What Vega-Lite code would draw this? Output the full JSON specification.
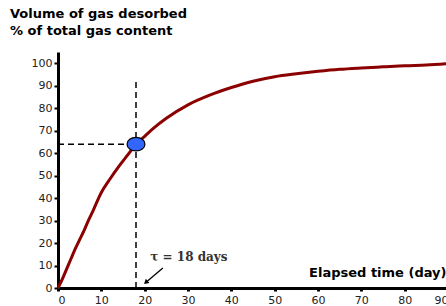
{
  "$schema": "https://vega.github.io/schema/vega-lite/v6.json",
  "autosize": "none",
  "width": 390,
  "height": 236,
  "padding": {"left": 58, "top": 52, "right": 0, "bottom": 18},
  "background": "white",
  "config": {
    "view": {"stroke": null},
    "font": "DejaVu Sans",
    "axisY": {"values": [0, 10, 20, 30, 40, 50, 60, 70, 80, 90, 100], "labelOverlap": false, "tickCount": 11}
  },
  "title": {
    "text": ["Volume of gas desorbed", "% of total gas content"],
    "anchor": "start",
    "frame": "group",
    "dx": -48,
    "offset": 14,
    "fontSize": 13,
    "fontWeight": "bold",
    "lineHeight": 17,
    "color": "black",
    "font": "DejaVu Sans"
  },
  "datasets": {
    "curve": [
      {"t": 0, "v": 0}, {"t": 1, "v": 4}, {"t": 2, "v": 8.5}, {"t": 3, "v": 13}, {"t": 4, "v": 17.5},
      {"t": 5, "v": 21.5}, {"t": 6, "v": 25.5}, {"t": 7, "v": 30}, {"t": 8, "v": 34},
      {"t": 10, "v": 42.5}, {"t": 12, "v": 48.5}, {"t": 14, "v": 54}, {"t": 16, "v": 59},
      {"t": 18, "v": 64}, {"t": 20, "v": 67.5}, {"t": 22, "v": 71}, {"t": 25, "v": 75.5},
      {"t": 30, "v": 81.5}, {"t": 35, "v": 85.8}, {"t": 40, "v": 89.2}, {"t": 45, "v": 92},
      {"t": 50, "v": 94}, {"t": 55, "v": 95.3}, {"t": 60, "v": 96.4}, {"t": 65, "v": 97.3},
      {"t": 70, "v": 97.9}, {"t": 75, "v": 98.4}, {"t": 80, "v": 98.9}, {"t": 85, "v": 99.2},
      {"t": 90, "v": 99.8}
    ],
    "guides": [
      {"x": 0, "x2": 18, "y": 64, "y2": 64},
      {"x": 18, "x2": 18, "y": 0, "y2": 92}
    ],
    "marker": [{"t": 18, "v": 64}],
    "arrow": [{"x": 24.2, "y": 8.9, "x2": 20.6, "y2": 3}],
    "arrowhead": [{"x": 20.4, "y": 2.7}],
    "label": [{"x": 21.3, "y": 13.8, "text": "τ = 18 days"}]
  },
  "encoding": {
    "y": {"type": "quantitative", "scale": {"domain": [0, 105], "nice": false},
      "axis": {
        "values": [0, 10, 20, 30, 40, 50, 60, 70, 80, 90, 100],
        "grid": false, "labelOverlap": false,
        "domainColor": "black", "domainWidth": 3,
        "tickColor": "black", "tickWidth": 2, "tickSize": 4,
        "labelFontSize": 11, "labelColor": "#222", "labelPadding": 2, "labelFont": "DejaVu Sans",
        "title": null
      }}
  },
  "layer": [
    {
      "data": {"name": "guides"},
      "mark": {"type": "rule", "color": "black", "strokeWidth": 1.5, "strokeDash": [6, 4]},
      "encoding": {
        "x": {"field": "x", "type": "quantitative", "scale": {"domain": [0, 90], "nice": false},
          "axis": {
            "values": [0, 10, 20, 30, 40, 50, 60, 70, 80, 90],
            "grid": false, "labelOverlap": false,
            "domainColor": "black", "domainWidth": 3,
            "tickColor": "black", "tickWidth": 3, "tickSize": 3,
            "labelFontSize": 11, "labelColor": "#222", "labelPadding": 3, "labelFont": "DejaVu Sans",
            "title": "Elapsed time (day)",
            "titleFontSize": 13, "titleFontWeight": "bold", "titleColor": "black", "titleFont": "DejaVu Sans",
            "titleAlign": "right", "titleAnchor": "end", "titleX": 388, "titleY": -9, "titleBaseline": "bottom"
          }},
        "x2": {"field": "x2"},
        "y": {"field": "y"},
        "y2": {"field": "y2"}
      }
    },
    {
      "data": {"name": "curve"},
      "mark": {"type": "line", "color": "#8B0000", "strokeWidth": 3, "interpolate": "monotone"},
      "encoding": {
        "x": {"field": "t", "type": "quantitative"},
        "y": {"field": "v"}
      }
    },
    {
      "data": {"name": "marker"},
      "mark": {"type": "point", "shape": "M-1.25,0A1.25,0.95 0 1,0 1.25,0A1.25,0.95 0 1,0 -1.25,0Z", "size": 205, "filled": true, "fill": "#3366FF", "stroke": "black", "strokeWidth": 1.2, "opacity": 1},
      "encoding": {
        "x": {"field": "t", "type": "quantitative"},
        "y": {"field": "v"}
      }
    },
    {
      "data": {"name": "arrow"},
      "mark": {"type": "rule", "color": "black", "strokeWidth": 1.3},
      "encoding": {
        "x": {"field": "x", "type": "quantitative"},
        "y": {"field": "y"},
        "x2": {"field": "x2"},
        "y2": {"field": "y2"}
      }
    },
    {
      "data": {"name": "arrowhead"},
      "mark": {"type": "point", "shape": "triangle", "size": 30, "filled": true, "color": "black", "angle": 230, "opacity": 1},
      "encoding": {
        "x": {"field": "x", "type": "quantitative"},
        "y": {"field": "y"}
      }
    },
    {
      "data": {"name": "label"},
      "mark": {"type": "text", "align": "left", "baseline": "middle", "font": "DejaVu Serif", "fontSize": 12, "fontWeight": "bold", "color": "#333"},
      "encoding": {
        "x": {"field": "x", "type": "quantitative"},
        "y": {"field": "y"},
        "text": {"field": "text"}
      }
    }
  ]
}
